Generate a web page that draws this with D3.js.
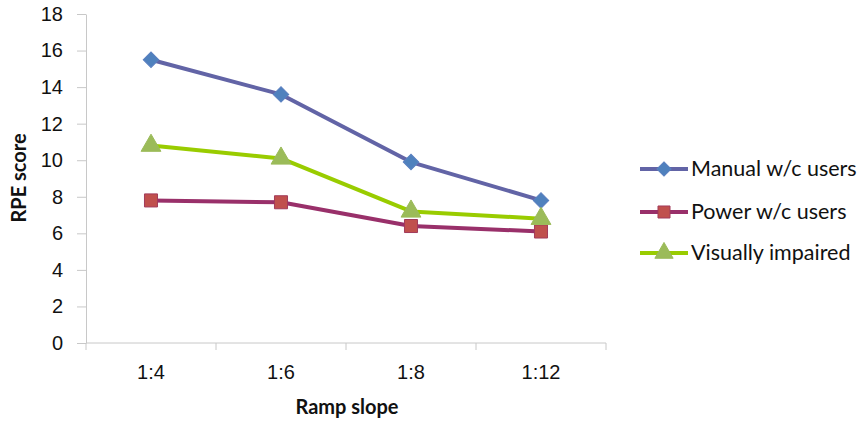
<!DOCTYPE html>
<html><head><meta charset="utf-8">
<script src="https://cdn.jsdelivr.net/npm/d3@7"></script>
<style>body{margin:0;background:#fff;}svg{display:block;font-family:Lato,"Open Sans",sans-serif;}</style>
</head><body><svg id="c" width="866" height="423"></svg>
<script>
const categories = ["1:4","1:6","1:8","1:12"];
const seriesNames = ["Manual w/c users","Power w/c users","Visually impaired"];
const manual = [15.5, 13.6, 9.9, 7.8];
const power = [7.8, 7.7, 6.4, 6.1];
const visual = [10.8, 10.1, 7.2, 6.8];
const yTicks = [0,2,4,6,8,10,12,14,16,18];

const series = [
  {name: seriesNames[0], values: manual, line: "#6264a6", fill: "#4f81bd", stroke:"#5a7fc0", sym: d3.symbolSquare, rot: 45, size: 120},
  {name: seriesNames[1], values: power, line: "#99306a", fill: "#c0504d", stroke:"#a23a5a", sym: d3.symbolSquare, rot: 0, size: 170},
  {name: seriesNames[2], values: visual, line: "#99cc00", fill: "#9bbb59", stroke:"#9bbb59", sym: d3.symbolTriangle, rot: 0, size: 170}
];

const svg = d3.select("#c");
const mLeft = 86, mRight = 606, mTop = 14, mBottom = 343;
const x = d3.scaleBand().domain(categories).range([mLeft, mRight]).padding(0);
const y = d3.scaleLinear().domain([0,18]).range([mBottom, mTop]);

// y axis
const ya = svg.append("g").attr("transform", `translate(${mLeft},0)`)
  .call(d3.axisLeft(y).tickValues(yTicks).tickSize(9).tickSizeOuter(0).tickPadding(14));
ya.select(".domain").attr("stroke","#c8c8c8");
ya.selectAll(".tick line").attr("stroke","#c8c8c8");
ya.selectAll("text").attr("font-size",20).attr("fill","#111");

// x axis
const xa = svg.append("g").attr("transform", `translate(0,${mBottom})`)
  .call(d3.axisBottom(x).tickSize(0).tickPadding(22));
xa.select(".domain").attr("stroke","#c8c8c8").attr("d", `M${mLeft},0H${mRight}`);
xa.selectAll("text").attr("font-size",20).attr("fill","#111");
const bounds = categories.map(c => x(c)).concat([x(categories[categories.length-1]) + x.bandwidth()]);
xa.selectAll(".bt").data(bounds).enter().append("line")
  .attr("x1", d=>d).attr("x2", d=>d).attr("y1",0).attr("y2",7).attr("stroke","#c8c8c8");

// axis titles
svg.append("text").attr("transform",`translate(26,178) rotate(-90)`)
  .attr("text-anchor","middle").attr("font-size",20).attr("font-weight","bold").attr("fill","#111").text("RPE score");
svg.append("text").attr("x",(mLeft+mRight)/2 + 1).attr("y",414)
  .attr("text-anchor","middle").attr("font-size",20).attr("font-weight","bold").attr("fill","#111").text("Ramp slope");

const cx = c => x(c) + x.bandwidth()/2;
const line = d3.line().x((d,i)=>cx(categories[i])).y(d=>y(d));

series.forEach(s => {
  svg.append("path").attr("d", line(s.values)).attr("fill","none")
    .attr("stroke", s.line).attr("stroke-width",4).attr("stroke-linejoin","round");
});
series.forEach(s => {
  svg.append("g").selectAll("path").data(s.values).enter().append("path")
    .attr("d", d3.symbol().type(s.sym).size(s.size))
    .attr("transform",(d,i)=>`translate(${cx(categories[i])},${y(d)}) rotate(${s.rot})`)
    .attr("fill", s.fill).attr("stroke", s.stroke).attr("stroke-width",1);
});

// legend
const lg = svg.append("g");
const rows = [169, 212, 253];
series.forEach((s,i) => {
  const g = lg.append("g").attr("transform",`translate(0,${rows[i]})`);
  g.append("line").attr("x1",640).attr("x2",688).attr("y1",0).attr("y2",0).attr("stroke",s.line).attr("stroke-width",4);
  g.append("path").attr("d", d3.symbol().type(s.sym).size(s.size*0.85)).attr("transform",`translate(664,0) rotate(${s.rot})`)
    .attr("fill", s.fill).attr("stroke", s.stroke);
  g.append("text").attr("x",691).attr("y",7).attr("font-size",21.5).attr("fill","#111").text(s.name);
});
</script></body></html>
